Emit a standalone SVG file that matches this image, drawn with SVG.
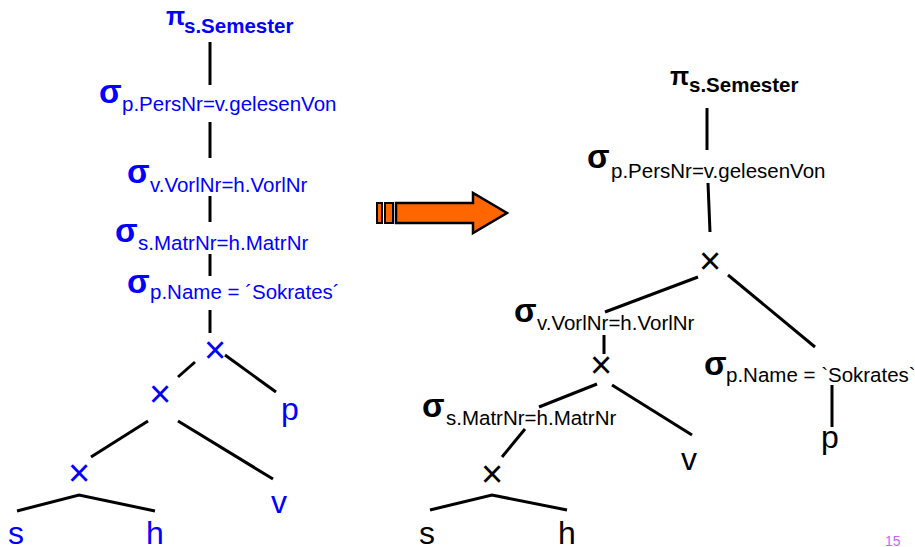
<svg xmlns="http://www.w3.org/2000/svg" width="915" height="547" viewBox="0 0 915 547">
<style>
text{font-family:"Liberation Sans",Arial,sans-serif}
.b{fill:#0000ff}
.k{fill:#000}
.op{font-size:33px;font-weight:bold}
.pi{font-size:25px;font-weight:bold}
.sub{font-size:20.5px}
.subb{font-size:20.5px;font-weight:bold}
.leaf{font-size:32px}
.x{font-size:38px;text-anchor:middle}
.edge{stroke:#000;stroke-width:3;fill:none}
.pg{font-size:14px;fill:#cc66ff}
</style>
<g id="connectors">
<line class="edge" x1="210" y1="42" x2="210" y2="85"/>
<line class="edge" x1="210" y1="122" x2="210" y2="158"/>
<line class="edge" x1="210" y1="196" x2="210" y2="222"/>
<line class="edge" x1="210" y1="254" x2="210" y2="276"/>
<line class="edge" x1="210" y1="310" x2="210" y2="333"/>
<line class="edge" x1="195" y1="362" x2="178" y2="377"/>
<line class="edge" x1="225" y1="355" x2="276" y2="392"/>
<line class="edge" x1="148" y1="421" x2="91" y2="457"/>
<line class="edge" x1="178" y1="421" x2="273" y2="479"/>
<polyline class="edge" points="17,511 79,495 155,511"/>
<line class="edge" x1="707" y1="108" x2="707" y2="150"/>
<line class="edge" x1="708" y1="183" x2="710" y2="232"/>
<line class="edge" x1="698" y1="277" x2="605" y2="312"/>
<line class="edge" x1="728" y1="275" x2="815" y2="347"/>
<line class="edge" x1="604" y1="335" x2="604" y2="354"/>
<line class="edge" x1="597" y1="384" x2="539" y2="407"/>
<line class="edge" x1="612" y1="385" x2="692" y2="435"/>
<line class="edge" x1="525" y1="429" x2="502" y2="457"/>
<polyline class="edge" points="430,510 492,495 567,510"/>
<line class="edge" x1="832" y1="385" x2="832" y2="427"/>
</g>
<g id="arrow">
<rect x="377" y="203" width="5" height="20" fill="#ff6600" stroke="#000" stroke-width="2"/>
<rect x="385" y="203" width="8" height="20" fill="#ff6600" stroke="#000" stroke-width="2"/>
<polygon points="396,203 473,203 473,193 507,213 473,233 473,223 396,223" fill="#ff6600" stroke="#000" stroke-width="2.5" stroke-linejoin="miter"/>
</g>
<g id="L_pi"><text x="166" y="25" class="pi b">π</text><text x="184" y="33" class="subb b">s.Semester</text></g>
<g id="L_sigma_pers"><text x="99" y="103" class="op b">σ</text><text x="122" y="111" class="sub b">p.PersNr=v.gelesenVon</text></g>
<g id="L_sigma_vorl"><text x="127" y="183" class="op b">σ</text><text x="150" y="192" class="sub b">v.VorlNr=h.VorlNr</text></g>
<g id="L_sigma_matr"><text x="115" y="242" class="op b">σ</text><text x="138" y="250" class="sub b">s.MatrNr=h.MatrNr</text></g>
<g id="L_sigma_name"><text x="127" y="293" class="op b">σ</text><text x="150" y="299" class="sub b">p.Name = ´Sokrates´</text></g>
<g id="L_x1"><text x="215" y="363" class="x b">×</text></g>
<g id="L_x2"><text x="160" y="407" class="x b">×</text></g>
<g id="L_x3"><text x="79" y="486" class="x b">×</text></g>
<g id="L_p"><text x="281" y="420" class="leaf b">p</text></g>
<g id="L_v"><text x="271" y="513" class="leaf b">v</text></g>
<g id="L_s"><text x="8" y="544" class="leaf b">s</text></g>
<g id="L_h"><text x="146" y="544" class="leaf b">h</text></g>
<g id="R_pi"><text x="670" y="85" class="pi k">π</text><text x="689" y="92" class="subb k">s.Semester</text></g>
<g id="R_sigma_pers"><text x="587" y="168" class="op k">σ</text><text x="611" y="178" class="sub k">p.PersNr=v.gelesenVon</text></g>
<g id="R_x1"><text x="710" y="274" class="x k">×</text></g>
<g id="R_sigma_vorl"><text x="514" y="322" class="op k">σ</text><text x="537" y="330" class="sub k">v.VorlNr=h.VorlNr</text></g>
<g id="R_x2"><text x="601" y="378" class="x k">×</text></g>
<g id="R_sigma_matr"><text x="422" y="417" class="op k">σ</text><text x="446" y="425" class="sub k">s.MatrNr=h.MatrNr</text></g>
<g id="R_x3"><text x="492" y="487" class="x k">×</text></g>
<g id="R_sigma_name"><text x="704" y="375" class="op k">σ</text><text x="726" y="382" class="sub k">p.Name = `Sokrates`</text></g>
<g id="R_v"><text x="681" y="470" class="leaf k">v</text></g>
<g id="R_p"><text x="821" y="448" class="leaf k">p</text></g>
<g id="R_s"><text x="419" y="544" class="leaf k">s</text></g>
<g id="R_h"><text x="558" y="544" class="leaf k">h</text></g>
<g id="page"><text x="885" y="546" class="pg">15</text></g>
</svg>
